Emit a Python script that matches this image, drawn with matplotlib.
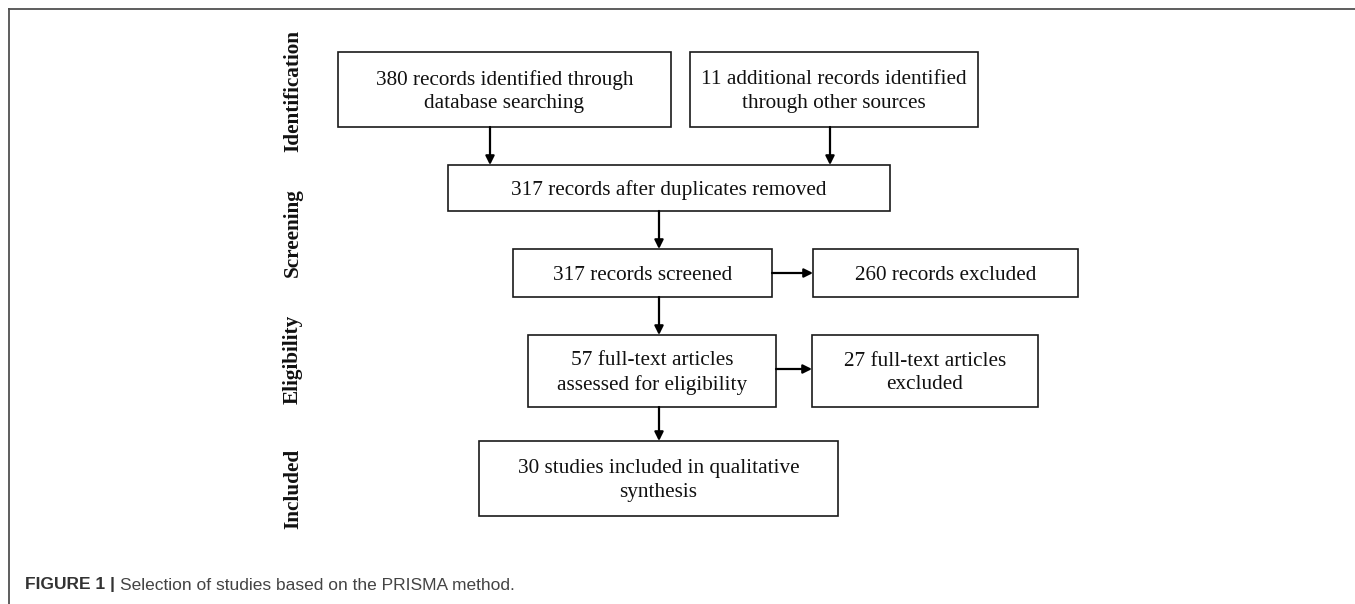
import matplotlib.pyplot as plt
from matplotlib.patches import Rectangle, FancyArrowPatch

# ----------------------------------------
# flow chart content
stage_labels = ['Identification', 'Screening', 'Eligibility', 'Included']
box_texts = [
    '380 records identified through\ndatabase searching',
    '11 additional records identified\nthrough other sources',
    '317 records after duplicates removed',
    '317 records screened',
    '260 records excluded',
    '57 full-text articles\nassessed for eligibility',
    '27 full-text articles\nexcluded',
    '30 studies included in qualitative\nsynthesis',
]
caption_bold = 'FIGURE 1 |'
caption_text = 'Selection of studies based on the PRISMA method.'

# ----------------------------------------
# layout (pixel coords, y downwards)
W, H = 1355, 604
box_x0 = [338, 690, 448, 513, 813, 528, 812, 479]
box_x1 = [671, 978, 890, 772, 1078, 776, 1038, 838]
box_y0 = [52, 52, 165, 249, 249, 335, 335, 441]
box_y1 = [127, 127, 211, 297, 297, 407, 407, 516]
stage_y = [91, 233, 359, 489]
stage_x = 293
# arrows: (x0, y0, x1, y1)
arrows = [(490, 127, 490, 165), (830, 127, 830, 165),
          (659, 211, 659, 249), (772, 273, 813, 273),
          (659, 297, 659, 335), (776, 369, 812, 369),
          (659, 407, 659, 441)]

serif = ['Liberation Serif', 'DejaVu Serif']
sans = ['Liberation Sans', 'DejaVu Sans']

fig = plt.figure(figsize=(W / 100, H / 100), dpi=100)
ax = fig.add_axes([0, 0, 1, 1])
ax.set_xlim(0, W)
ax.set_ylim(H, 0)
ax.axis('off')

# outer frame (top and left only)
ax.plot([8, W], [8.5, 8.5], color='#505050', lw=1.3, solid_capstyle='butt')
ax.plot([8.5, 8.5], [8, H], color='#505050', lw=1.3, solid_capstyle='butt')

for i, t in enumerate(box_texts):
    x0, x1, y0, y1 = box_x0[i], box_x1[i], box_y0[i], box_y1[i]
    ax.add_patch(Rectangle((x0, y0), x1 - x0, y1 - y0, fill=False,
                           edgecolor='#1a1a1a', lw=1.2))
    ax.text((x0 + x1) / 2, (y0 + y1) / 2 + 2, t, ha='center', va='center',
            family=serif, size=15.3, color='#111111', linespacing=1.3)

for (xa, ya, xb, yb) in arrows:
    ax.add_patch(FancyArrowPatch((xa, ya), (xb, yb), arrowstyle='-|>',
                                 mutation_scale=13, lw=1.6, color='black',
                                 shrinkA=0, shrinkB=0))

for lab, y in zip(stage_labels, stage_y):
    ax.text(stage_x, y, lab, rotation=90, ha='center', va='center',
            family=serif, weight='bold', size=15.3, color='#111111')

tb = ax.text(25, 585, caption_bold, ha='left', va='center', family=sans,
             weight='bold', size=12.5, color='#333333')
fig.canvas.draw()
bb = tb.get_window_extent().transformed(ax.transData.inverted())
ax.text(bb.x1 + 5, 585, caption_text, ha='left', va='center', family=sans,
        size=12.5, color='#444444')

plt.savefig('out.png', dpi=100)
plt.close()
